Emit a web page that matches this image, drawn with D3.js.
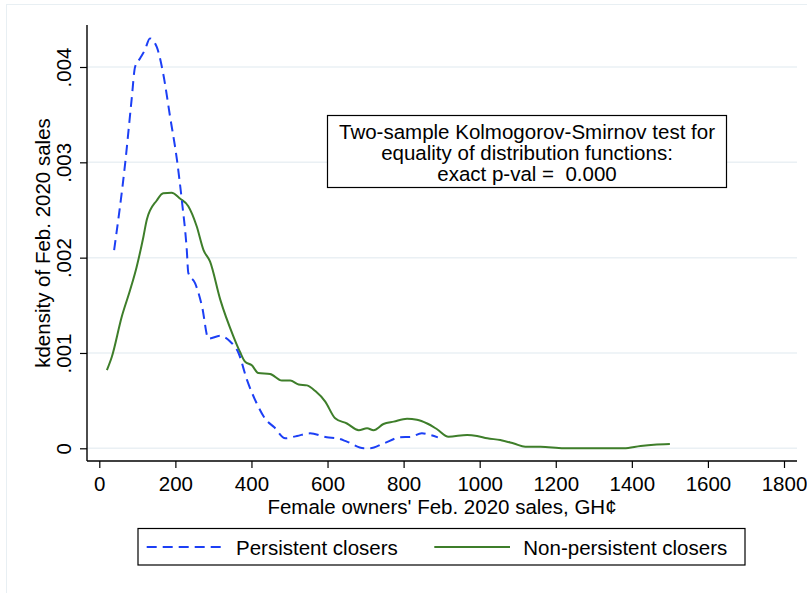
<!DOCTYPE html>
<meta charset="utf-8">
<head>
    <title>kdensity of Feb. 2020 sales</title>
    <style>
      body { margin: 0; background: #fff; }
      text { font-family: "Liberation Sans", Arial, Helvetica, sans-serif; fill: #000; }
    </style>
</head>
<body>
    <script src="https://cdn.jsdelivr.net/npm/d3@7"></script>
    <div id="chart"></div>
    <script>

        // kernel density: sales (GH¢) and density
        var persistentX = [39, 68, 85, 94, 107, 120, 133, 151, 168, 186, 204, 217, 230, 234, 252, 270, 287, 318, 344, 366, 388, 414, 436, 460, 489, 520, 554, 598, 625, 651, 695, 712, 747, 791, 818, 848, 870, 890];
        var persistentY = [0.00208, 0.00299, 0.00366, 0.0040, 0.00409, 0.00418, 0.0043, 0.00421, 0.00393, 0.00348, 0.00303, 0.0026, 0.00208, 0.00184, 0.00173, 0.00149, 0.00115, 0.00118, 0.00112, 0.0010, 0.00072, 0.00047, 0.00031, 0.00022, 0.000105, 0.00013, 0.000157, 0.000115, 0.000105, 0.00007, 0.0, 0.0, 0.00005, 0.000115, 0.00012, 0.000157, 0.00014, 0.000115];

        var nonPersistentX = [20, 33, 59, 81, 98, 116, 125, 151, 168, 190, 212, 234, 256, 274, 291, 318, 353, 370, 383, 401, 418, 449, 480, 502, 524, 546, 568, 594, 620, 651, 682, 704, 721, 747, 774, 809, 835, 862, 888, 918, 967, 993, 1020, 1054, 1090, 1120, 1160, 1221, 1379, 1423, 1458, 1500];
        var nonPersistentY = [0.00082, 0.00096, 0.00138, 0.00166, 0.0019, 0.00222, 0.0024, 0.0026, 0.002675, 0.00268, 0.00262, 0.00254, 0.00233, 0.00208, 0.00196, 0.00156, 0.00117, 0.00101, 0.00091, 0.00087, 0.00079, 0.00078, 0.00071, 0.00071, 0.00067, 0.00066, 0.0006, 0.00049, 0.000315, 0.00026, 0.00019, 0.00021, 0.00019, 0.000255, 0.00028, 0.00031, 0.0003, 0.00026, 0.0002, 0.000122, 0.00014, 0.00013, 0.000105, 0.000087, 0.00005, 0.000017, 0.000017, 0.0, 0.0, 0.000024, 0.000038, 0.000045];

        var xTicks = [0, 200, 400, 600, 800, 1000, 1200, 1400, 1600, 1800];
        var yTicks = [0, 0.001, 0.002, 0.003, 0.004];
        var yTickLabels = ['0', '.001', '.002', '.003', '.004'];
        var seriesNames = ['Persistent closers', 'Non-persistent closers'];
        var noteLines = ['Two-sample Kolmogorov-Smirnov test for', 'equality of distribution functions:', 'exact p-val =  0.000'];

        var width = 807;
        var height = 593;
        var blue = '#1c3ff5';
        var green = '#3e7e2a';
        var fontSize = '20.5px';

        var svg = d3.select('#chart')
          .append('svg')
          .attr('width', width)
          .attr('height', height);

        // faint outer frame
        svg.append('rect')
          .attr('x', 6.5).attr('y', 4.5)
          .attr('width', 820).attr('height', 620)
          .attr('fill', 'none')
          .attr('stroke', '#e8eff3');

        var x = d3.scaleLinear().domain([0, 1800]).range([99.3, 784]);
        var y = d3.scaleLinear().domain([0, 0.004]).range([448.3, 67]);

        var plotLeft = 87, plotRight = 797, plotTop = 25, plotBottom = 461;

        // gridlines
        svg.append('g')
          .selectAll('line')
          .data(yTicks)
          .enter()
          .append('line')
          .attr('x1', plotLeft).attr('x2', plotRight)
          .attr('y1', function(d) { return y(d); })
          .attr('y2', function(d) { return y(d); })
          .attr('stroke', '#eaf0f4')
          .attr('stroke-width', 1.5);

        // y axis
        var yAxis = svg.append('g')
          .attr('transform', 'translate(' + plotLeft + ',0)')
          .call(d3.axisLeft(y).tickValues(yTicks).tickSize(7)
            .tickFormat(function(d, i) { return yTickLabels[i]; }));
        yAxis.select('.domain').remove();
        yAxis.append('line')
          .attr('x1', 0).attr('x2', 0)
          .attr('y1', plotTop).attr('y2', plotBottom)
          .attr('stroke', '#000').attr('stroke-width', 1.4);
        yAxis.selectAll('.tick line').attr('stroke-width', 1.2);
        yAxis.selectAll('.tick text')
          .attr('x', null).attr('dy', null)
          .attr('transform', 'translate(-24,0) rotate(-90)')
          .attr('text-anchor', 'middle')
          .attr('dominant-baseline', 'central')
          .style('font-size', fontSize)
          .style('font-family', '"Liberation Sans", Arial, sans-serif');

        // x axis
        var xAxis = svg.append('g')
          .attr('transform', 'translate(0,' + plotBottom + ')')
          .call(d3.axisBottom(x).tickValues(xTicks).tickSize(7).tickFormat(d3.format('d')));
        xAxis.select('.domain').remove();
        xAxis.append('line')
          .attr('x1', plotLeft).attr('x2', plotRight)
          .attr('y1', 0).attr('y2', 0)
          .attr('stroke', '#000').attr('stroke-width', 1.4);
        xAxis.selectAll('.tick line').attr('stroke-width', 1.2);
        xAxis.selectAll('.tick text')
          .attr('y', 22).attr('dy', null)
          .attr('dominant-baseline', 'central')
          .style('font-size', fontSize)
          .style('font-family', '"Liberation Sans", Arial, sans-serif');

        // axis titles
        svg.append('text')
          .attr('x', (plotLeft + plotRight) / 2)
          .attr('y', 506)
          .attr('text-anchor', 'middle')
          .attr('dominant-baseline', 'central')
          .style('font-size', fontSize)
          .text("Female owners' Feb. 2020 sales, GH\u00a2");

        svg.append('text')
          .attr('transform', 'translate(42,' + ((plotTop + plotBottom) / 2) + ') rotate(-90)')
          .attr('text-anchor', 'middle')
          .attr('dominant-baseline', 'central')
          .style('font-size', fontSize)
          .text('kdensity of Feb. 2020 sales');

        // density lines
        var line = d3.line()
          .x(function(d) { return x(d[0]); })
          .y(function(d) { return y(d[1]); })
          .curve(d3.curveMonotoneX);

        svg.append('path')
          .datum(d3.zip(nonPersistentX, nonPersistentY))
          .attr('d', line)
          .attr('fill', 'none')
          .attr('stroke', green)
          .attr('stroke-width', 2);

        svg.append('path')
          .datum(d3.zip(persistentX, persistentY))
          .attr('d', line)
          .attr('fill', 'none')
          .attr('stroke', blue)
          .attr('stroke-width', 2)
          .attr('stroke-dasharray', '10,6');

        // KS test note
        svg.append('rect')
          .attr('x', 327.5).attr('y', 115.5)
          .attr('width', 399).attr('height', 72)
          .attr('fill', '#fff')
          .attr('stroke', '#000')
          .attr('stroke-width', 1.2);

        svg.append('g')
          .selectAll('text')
          .data(noteLines)
          .enter()
          .append('text')
          .attr('x', 527)
          .attr('y', function(d, i) { return 131 + i * 21; })
          .attr('text-anchor', 'middle')
          .attr('dominant-baseline', 'central')
          .style('font-size', fontSize)
          .style('white-space', 'pre')
          .text(function(d) { return d; });

        // legend
        var legend = svg.append('g');
        legend.append('rect')
          .attr('x', 138).attr('y', 528.5)
          .attr('width', 607).attr('height', 36.5)
          .attr('fill', '#fff')
          .attr('stroke', '#000')
          .attr('stroke-width', 1.2);

        var legendItems = [
          { name: seriesNames[0], color: blue, dash: '10,6', x0: 146.7, x1: 222.7, tx: 236 },
          { name: seriesNames[1], color: green, dash: null, x0: 434.3, x1: 510, tx: 523.3 }
        ];

        legend.selectAll('line')
          .data(legendItems)
          .enter()
          .append('line')
          .attr('x1', function(d) { return d.x0; })
          .attr('x2', function(d) { return d.x1; })
          .attr('y1', 547).attr('y2', 547)
          .attr('stroke', function(d) { return d.color; })
          .attr('stroke-width', 2)
          .attr('stroke-dasharray', function(d) { return d.dash; });

        legend.selectAll('text')
          .data(legendItems)
          .enter()
          .append('text')
          .attr('x', function(d) { return d.tx; })
          .attr('y', 547)
          .attr('dominant-baseline', 'central')
          .style('font-size', fontSize)
          .text(function(d) { return d.name; });
  </script>
</body>
